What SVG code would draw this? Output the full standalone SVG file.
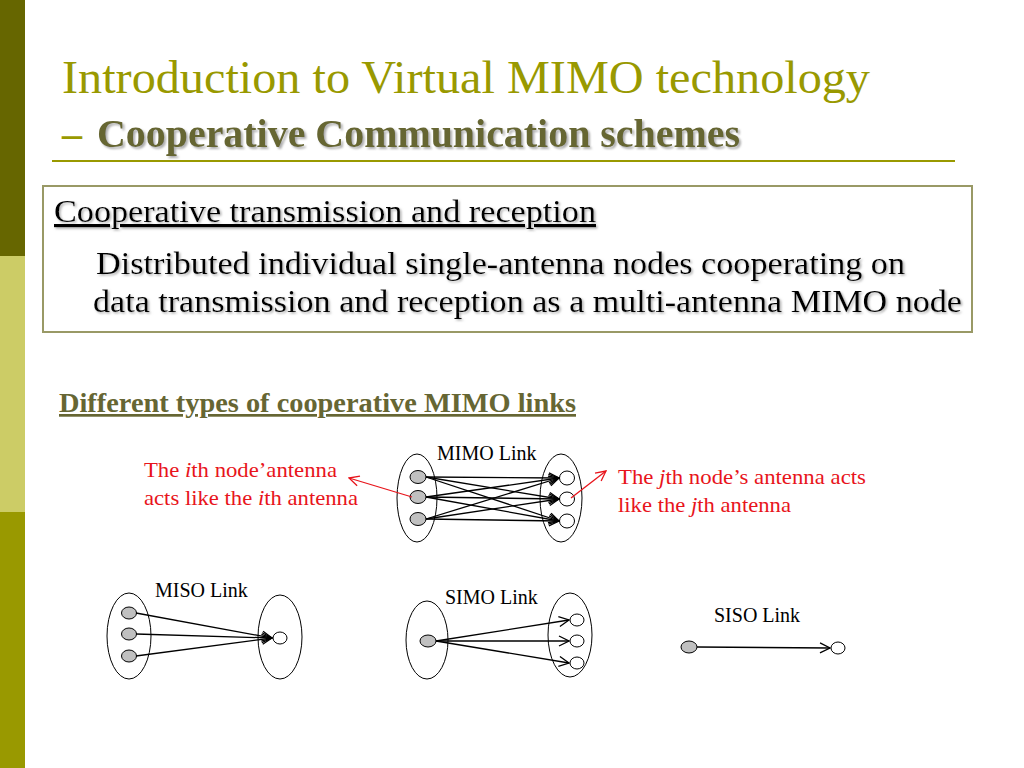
<svg xmlns="http://www.w3.org/2000/svg" width="1024" height="768" viewBox="0 0 1024 768">
<defs>
<style>
.serif{font-family:"Liberation Serif","Times New Roman",serif}
.lbl{font-family:"Liberation Serif",serif;font-size:20px;fill:#000}
.red{font-family:"Liberation Serif",serif;font-size:22px;fill:#E8141B}
.grp{fill:none;stroke:#000;stroke-width:1}
.tx{fill:#C0C0C0;stroke:#000;stroke-width:1}
.rx{fill:#fff;stroke:#000;stroke-width:1}
.ln{stroke:#000;stroke-width:1.3;fill:none;marker-end:url(#ah)}
.rln{stroke:#E8141B;stroke-width:1.3;fill:none;marker-end:url(#rah)}
</style>
<marker id="ah" markerWidth="12" markerHeight="12" refX="11" refY="6" orient="auto" markerUnits="userSpaceOnUse">
<path d="M1,1 L11,6 L1,11" fill="none" stroke="#000" stroke-width="1.3"/>
</marker>
<marker id="rah" markerWidth="12" markerHeight="12" refX="11" refY="6" orient="auto" markerUnits="userSpaceOnUse">
<path d="M1,1 L11,6 L1,11" fill="none" stroke="#E8141B" stroke-width="1.3"/>
</marker>
<filter id="sh" x="-5%" y="-20%" width="110%" height="150%">
<feDropShadow dx="2" dy="2" stdDeviation="1" flood-color="#999" flood-opacity="0.8"/>
</filter>
<filter id="sh2" x="-5%" y="-20%" width="110%" height="150%">
<feDropShadow dx="1.5" dy="1.5" stdDeviation="0.8" flood-color="#999" flood-opacity="0.8"/>
</filter>
</defs>
<rect width="1024" height="768" fill="#fff"/>
<g id="sidebar">
<rect x="0" y="0" width="25" height="256" fill="#666600"/>
<rect x="0" y="256" width="25" height="256" fill="#CCCC66"/>
<rect x="0" y="512" width="25" height="256" fill="#999900"/>
</g>
<g id="title">
<text x="62" y="93" class="serif" font-size="47" fill="#999900" textLength="808" lengthAdjust="spacingAndGlyphs">Introduction to Virtual MIMO technology</text>
<text x="62" y="147" class="serif" font-size="40" font-weight="bold" fill="#999900">–</text>
<text x="97" y="147" class="serif" font-size="40" font-weight="bold" fill="#666633" filter="url(#sh)" textLength="643" lengthAdjust="spacingAndGlyphs">Cooperative Communication schemes</text>
<line x1="52" y1="161" x2="955" y2="161" stroke="#999900" stroke-width="2"/>
</g>
<g id="box">
<rect x="43" y="186" width="929" height="146" fill="#fff" stroke="#999966" stroke-width="2"/>
<g filter="url(#sh2)">
<text x="54" y="222" class="serif" font-size="32" fill="#000" text-decoration="underline" textLength="542" lengthAdjust="spacingAndGlyphs">Cooperative transmission and reception</text>
<text x="96" y="274" class="serif" font-size="32" fill="#000" textLength="809" lengthAdjust="spacingAndGlyphs">Distributed individual single-antenna nodes cooperating on</text>
<text x="93" y="312" class="serif" font-size="32" fill="#000" textLength="869" lengthAdjust="spacingAndGlyphs">data transmission and reception as a multi-antenna MIMO node</text>
</g>
</g>
<g id="subheading">
<text x="59" y="412" class="serif" font-size="27" font-weight="bold" fill="#666633" text-decoration="underline" textLength="517" lengthAdjust="spacingAndGlyphs">Different types of cooperative MIMO links</text>
</g>
<g id="mimo">
<text x="437" y="460" class="lbl">MIMO Link</text>
<ellipse cx="417" cy="498" rx="20" ry="44" class="grp"/>
<ellipse cx="561" cy="498" rx="21" ry="44" class="grp"/>
<ellipse cx="418" cy="477" rx="8" ry="6.5" class="tx"/>
<ellipse cx="418" cy="497" rx="8" ry="6.5" class="tx"/>
<ellipse cx="418" cy="519" rx="8" ry="6.5" class="tx"/>
<ellipse cx="567" cy="478" rx="7.5" ry="7" class="rx"/>
<ellipse cx="567" cy="499" rx="7.5" ry="7" class="rx"/>
<ellipse cx="567" cy="521" rx="7.5" ry="7" class="rx"/>
</g>
<g id="mimo-notes">
<text x="144" y="477" class="red" textLength="193" lengthAdjust="spacingAndGlyphs">The <tspan font-style="italic">i</tspan>th node’antenna</text>
<text x="144" y="505" class="red" textLength="214" lengthAdjust="spacingAndGlyphs">acts like the <tspan font-style="italic">i</tspan>th antenna</text>
<text x="618" y="484" class="red" textLength="248" lengthAdjust="spacingAndGlyphs">The <tspan font-style="italic">j</tspan>th node’s antenna acts</text>
<text x="618" y="512" class="red" textLength="173" lengthAdjust="spacingAndGlyphs">like the <tspan font-style="italic">j</tspan>th antenna</text>
</g>
<g id="miso">
<text x="155" y="597" class="lbl">MISO Link</text>
<ellipse cx="129" cy="636" rx="22" ry="43" class="grp"/>
<ellipse cx="280" cy="637" rx="22" ry="42" class="grp"/>
<ellipse cx="129" cy="613" rx="7.5" ry="6" class="tx"/>
<ellipse cx="129" cy="634" rx="7.5" ry="6" class="tx"/>
<ellipse cx="129" cy="656" rx="7.5" ry="6" class="tx"/>
<ellipse cx="280" cy="638" rx="7" ry="6" class="rx"/>
</g>
<g id="simo">
<text x="445" y="604" class="lbl">SIMO Link</text>
<ellipse cx="427" cy="640" rx="21" ry="39" class="grp"/>
<ellipse cx="570" cy="635" rx="22" ry="42" class="grp"/>
<ellipse cx="428" cy="641" rx="8" ry="6" class="tx"/>
<ellipse cx="577" cy="620" rx="7" ry="6" class="rx"/>
<ellipse cx="577" cy="641" rx="7" ry="6" class="rx"/>
<ellipse cx="577" cy="663" rx="7" ry="6" class="rx"/>
</g>
<g id="siso">
<text x="714" y="622" class="lbl">SISO Link</text>
<ellipse cx="689" cy="647" rx="8" ry="6" class="tx"/>
<ellipse cx="838" cy="648" rx="7" ry="6" class="rx"/>
</g>
<g id="connectors">
<path class="ln" d="M426,477 L559,478"/>
<path class="ln" d="M426,477 L559,499"/>
<path class="ln" d="M426,477 L559,521"/>
<path class="ln" d="M426,497 L559,478"/>
<path class="ln" d="M426,497 L559,499"/>
<path class="ln" d="M426,497 L559,521"/>
<path class="ln" d="M426,519 L559,478"/>
<path class="ln" d="M426,519 L559,499"/>
<path class="ln" d="M426,519 L559,521"/>
<path class="rln" d="M412,497 L349,478"/>
<path class="rln" d="M571,498 L606,471"/>
<path class="ln" d="M136,613 L272,638"/>
<path class="ln" d="M136,634 L272,638"/>
<path class="ln" d="M136,656 L272,638"/>
<path class="ln" d="M436,641 L569,620"/>
<path class="ln" d="M436,641 L569,641"/>
<path class="ln" d="M436,641 L569,663"/>
<path class="ln" d="M697,647 L830,648"/>
</g>
</svg>
